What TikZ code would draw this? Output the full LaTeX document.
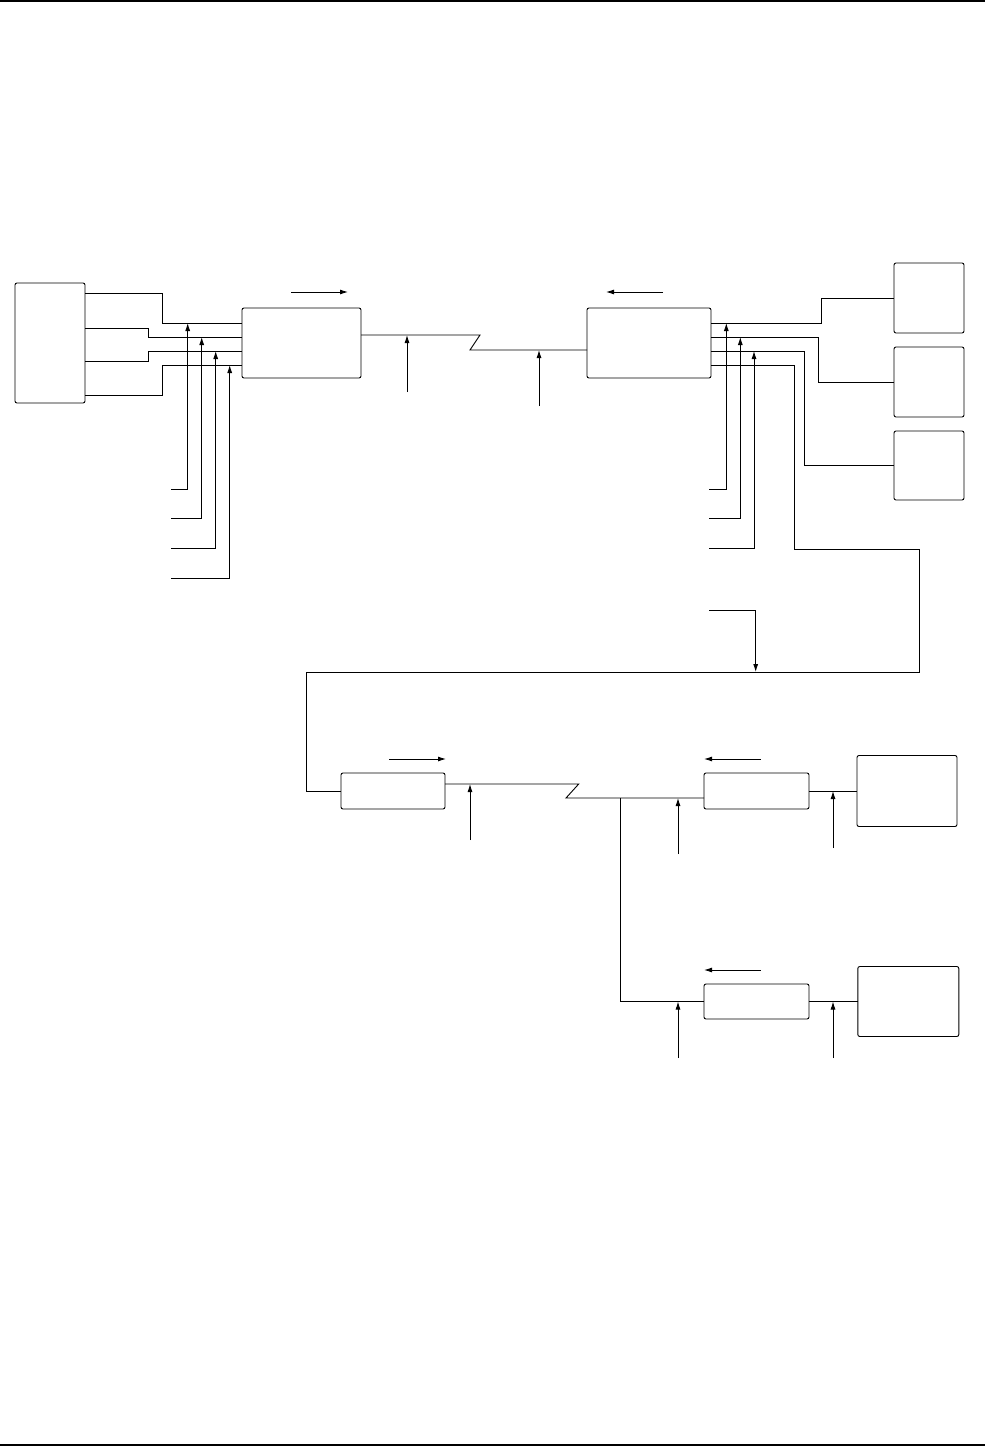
\documentclass[tikz,border=0pt]{standalone}
\usepackage{tikz}
\usetikzlibrary{arrows.meta, positioning}

\begin{document}
\begin{tikzpicture}[
    x=1pt, y=-1pt, line width=0.9pt,
    unit/.style={rectangle, rounded corners=2pt, draw, inner sep=0pt, outer sep=0pt},
    arr/.style={-{Latex[length=8pt,width=5pt]}}
]
\useasboundingbox (0,0) rectangle (985,1447);
\draw[line width=2pt] (0,1.5) -- (985,1.5);
\draw[line width=1.6pt] (0,1445) -- (985,1445);

\node[unit, minimum width=70pt, minimum height=120pt] (term) at (50,343) {};
\node[unit, minimum width=119pt, minimum height=70pt] (muxL) at (301.5,343) {};
\node[unit, minimum width=124pt, minimum height=70pt] (muxR) at (649,343) {};
\node[unit, minimum width=70pt, minimum height=70pt] (dev1) at (929,298) {};
\node[unit, minimum width=70pt, minimum height=70pt] (dev2) at (929,382) {};
\node[unit, minimum width=70pt, minimum height=69pt] (dev3) at (929,465.5) {};
\node[unit, minimum width=104pt, minimum height=36pt] (modE) at (393,791) {};
\node[unit, minimum width=105pt, minimum height=36pt] (modF) at (756.5,791) {};
\node[unit, minimum width=105pt, minimum height=35pt] (modG) at (756.5,1001.5) {};
\node[unit, minimum width=100pt, minimum height=71pt] (stnH) at (907,791) {};
\node[unit, minimum width=101pt, minimum height=70pt] (stnI) at (908.3,1001.5) {};
\coordinate (split) at (620,798);

\draw (term.east |- 0,293) -| (162.7,323) -- (muxL.west |- 0,323);
\draw (term.east |- 0,328) -| (148,337) -- (muxL.west |- 0,337);
\draw (term.east |- 0,361) -| (148,351) -- (muxL.west |- 0,351);
\draw (term.east |- 0,395) -| (162.7,365) -- (muxL.west |- 0,365);
\draw[arr] (171,489) -| (187.7,323);
\draw[arr] (171,518) -| (201.7,337);
\draw[arr] (171,548) -| (215.7,351);
\draw[arr] (171,578) -| (229.7,365);
\draw[arr] (291,292) -- (348,292);

\draw (muxL.east |- 0,335) -- (480,335) -- (470,350) -- (muxR.west |- 0,350);
\draw[arr] (407,392) -- (407,335);
\draw[arr] (539,406) -- (539,350);
\draw[arr] (663,292) -- (606,292);

\draw (muxR.east |- 0,323) -| (821,298) -- (dev1.west);
\draw (muxR.east |- 0,337) -| (818,382) -- (dev2.west);
\draw (muxR.east |- 0,351) -| (804,465.5) -- (dev3.west);
\draw (muxR.east |- 0,365) -| (794,549) -| (919,672) -- (306.7,672) |- (modE.west);
\draw[arr] (709,489) -| (726.3,323);
\draw[arr] (709,518) -| (740.3,337);
\draw[arr] (709,548) -| (754,351);
\draw[arr] (709,610) -| (755.7,672);

\draw (modE.east |- 0,784) -- (578.7,784) -- (566,798) -- (modF.west |- split);
\draw (split) |- (modG.west);
\draw (modF.east) -- (stnH.west |- modF.east);
\draw (modG.east) -- (stnI.west |- modG.east);
\draw[arr] (389,759) -- (446,759);
\draw[arr] (760.7,759) -- (704,759);
\draw[arr] (760.7,970) -- (704,970);
\draw[arr] (470,840) -- (470,784);
\draw[arr] (678,854) -- (678,798);
\draw[arr] (833,848) -- (833,791);
\draw[arr] (678,1058) -- (678,1001.5);
\draw[arr] (833,1058) -- (833,1001.5);
\end{tikzpicture}
\end{document}
